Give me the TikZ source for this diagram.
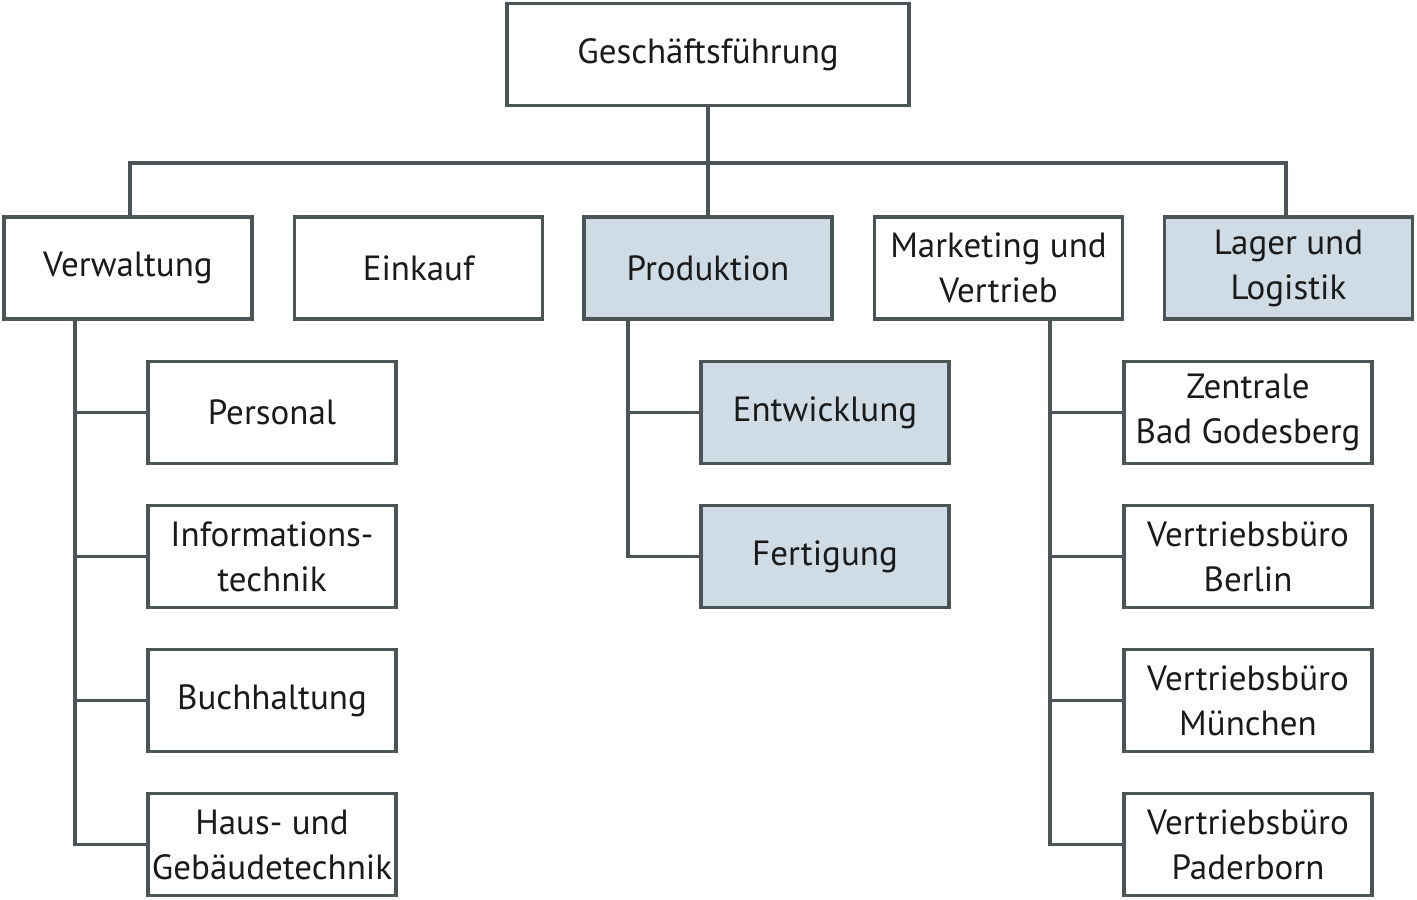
\documentclass[tikz,border=0pt]{standalone}
\usepackage{fontspec}
\setmainfont{PT Sans}
\definecolor{linec}{HTML}{4B5457}
\definecolor{fillc}{HTML}{CFDCE5}
\definecolor{textc}{HTML}{1A1A1A}
\begin{document}
\begin{tikzpicture}[x=1pt,y=-1pt,
  box/.style={draw=linec, line width=3.8pt, minimum width=248pt, minimum height=102pt,
    align=center, inner sep=0pt, text=textc, font=\fontsize{35}{45}\selectfont},
  shaded/.style={box, fill=fillc},
  conn/.style={draw=linec, line width=3.8pt}]
\useasboundingbox (0,0) rectangle (1417,900);
\node[box, minimum width=402pt] (gf) at (708,54.5) {Geschäftsführung};
\node[box] (verw) at (128,268) {Verwaltung};
\node[box] (eink) at (418.5,268) {Einkauf};
\node[shaded] (prod) at (708,268) {Produktion};
\node[box] (mark) at (998.5,268) {Marketing und\\Vertrieb};
\node[shaded] (lager) at (1288.5,268) {Lager und\\Logistik};
\node[box] (pers) at (272,412.5) {Personal};
\node[box] (info) at (272,556.5) {Informations-\\technik};
\node[box] (buch) at (272,700.5) {Buchhaltung};
\node[box] (haus) at (272,844.5) {Haus- und\\Gebäudetechnik};
\node[shaded] (entw) at (825,412.5) {Entwicklung};
\node[shaded] (fert) at (825,556.5) {Fertigung};
\node[box] (zent) at (1248,412.5) {Zentrale\\Bad Godesberg};
\node[box] (berl) at (1248,556.5) {Vertriebsbüro\\Berlin};
\node[box] (muen) at (1248,700.5) {Vertriebsbüro\\München};
\node[box] (pade) at (1248,844.5) {Vertriebsbüro\\Paderborn};
\coordinate (bus) at (708,163);
% top bus
\draw[conn] (gf.south) -- (prod.north);
\draw[conn] (verw.north -| 130,0) |- (bus) -| (lager.north -| 1286,0);
\draw[conn] (eink.north -| 419,0) -- (eink.north -| 419,163);
\draw[conn] (mark.north -| 997,0) -- (mark.north -| 997,163);
% Verwaltung trunk
\draw[conn] (verw.south -| 75,0) |- (haus.west);
\draw[conn] (pers.west) -- (pers.west -| 75,0);
\draw[conn] (info.west) -- (info.west -| 75,0);
\draw[conn] (buch.west) -- (buch.west -| 75,0);
% Produktion trunk
\draw[conn] (prod.south -| 628,0) |- (fert.west);
\draw[conn] (entw.west) -- (entw.west -| 628,0);
% Marketing trunk
\draw[conn] (mark.south -| 1050,0) |- (pade.west);
\draw[conn] (zent.west) -- (zent.west -| 1050,0);
\draw[conn] (berl.west) -- (berl.west -| 1050,0);
\draw[conn] (muen.west) -- (muen.west -| 1050,0);
\end{tikzpicture}
\end{document}
